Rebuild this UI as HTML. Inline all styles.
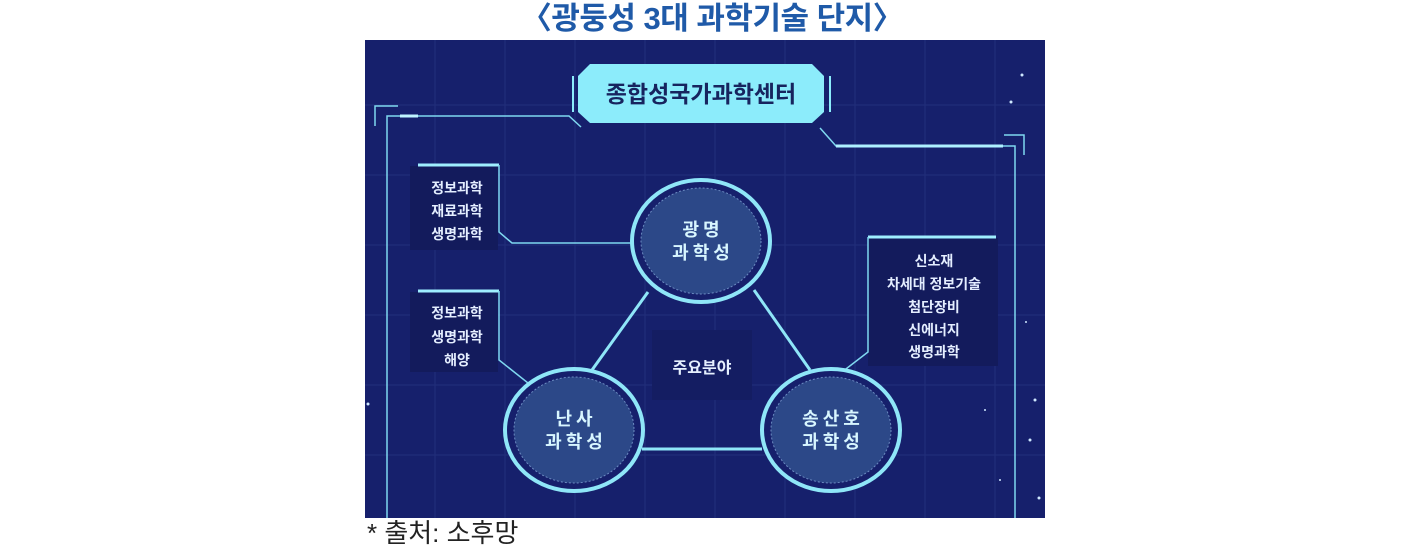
<!DOCTYPE html>
<html><head><meta charset="utf-8"><style>
html,body{margin:0;padding:0;background:#fff;width:1424px;height:551px;overflow:hidden}
body{position:relative;font-family:"Liberation Sans","Noto Sans CJK KR",sans-serif}
.title{position:absolute;left:0;width:1424px;top:0px;text-align:center;font-size:31px;font-weight:bold;color:#1f5aa8;line-height:38px;letter-spacing:-0.5px}
.foot{position:absolute;left:367px;top:516px;font-size:26px;color:#222;line-height:34px}
svg{position:absolute;left:0;top:0}
</style></head><body>
<div class="title">〈광둥성 3대 과학기술 단지〉</div>
<svg width="1424" height="551" viewBox="0 0 1424 551" font-family="Liberation Sans, Noto Sans CJK KR, sans-serif">
<defs><clipPath id="c"><rect x="365" y="40" width="680" height="478"/></clipPath></defs>
<g clip-path="url(#c)">
<rect x="365" y="40" width="680" height="478" fill="#16206c"/>
<g stroke="#2a3a86" stroke-width="1" opacity="0.6">
<line x1="435" y1="40" x2="435" y2="518"/><line x1="505" y1="40" x2="505" y2="518"/><line x1="575" y1="40" x2="575" y2="518"/><line x1="645" y1="40" x2="645" y2="518"/><line x1="715" y1="40" x2="715" y2="518"/><line x1="785" y1="40" x2="785" y2="518"/><line x1="855" y1="40" x2="855" y2="518"/><line x1="925" y1="40" x2="925" y2="518"/><line x1="995" y1="40" x2="995" y2="518"/>
<line x1="365" y1="105" x2="1045" y2="105"/><line x1="365" y1="175" x2="1045" y2="175"/><line x1="365" y1="245" x2="1045" y2="245"/><line x1="365" y1="315" x2="1045" y2="315"/><line x1="365" y1="385" x2="1045" y2="385"/><line x1="365" y1="455" x2="1045" y2="455"/>
</g>
<g stroke="#7fd8f0" stroke-width="1.5" fill="none">
<polyline points="387,518 387,116 569,116 581,127"/>
<polyline points="375,126 375,106 398,106"/>
<polyline points="820,128 836,146 1015,146 1015,518"/>
<polyline points="1004,135 1024,135 1024,155"/>
</g>
<line x1="400" y1="116" x2="418" y2="116" stroke="#bff4ff" stroke-width="3"/>
<line x1="836" y1="146" x2="1003" y2="146" stroke="#aef0ff" stroke-width="3"/>
<polygon points="590,64 812,64 824,76 824,112 812,123 590,123 578,112 578,76" fill="#8cecfb"/>
<line x1="573" y1="76" x2="573" y2="112" stroke="#8cecfb" stroke-width="2"/>
<line x1="830" y1="76" x2="830" y2="112" stroke="#8cecfb" stroke-width="2"/>
<text x="701" y="102" text-anchor="middle" font-size="23" font-weight="bold" fill="#17245e">종합성국가과학센터</text>
<rect x="410" y="166" width="88" height="84" fill="#131b5c"/>
<line x1="418" y1="165" x2="499" y2="165" stroke="#9feeff" stroke-width="3"/>
<polyline points="499,165 499,232 512,243 632,243" stroke="#7fd8f0" stroke-width="1.5" fill="none"/>
<g font-size="14" font-weight="bold" fill="#e4eeff" text-anchor="middle">
<text x="457" y="193">정보과학</text><text x="457" y="216">재료과학</text><text x="457" y="239">생명과학</text></g>
<rect x="410" y="292" width="88" height="80" fill="#131b5c"/>
<line x1="418" y1="291" x2="499" y2="291" stroke="#9feeff" stroke-width="3"/>
<polyline points="499,291 499,360 528,383" stroke="#7fd8f0" stroke-width="1.5" fill="none"/>
<g font-size="14" font-weight="bold" fill="#e4eeff" text-anchor="middle">
<text x="457" y="318">정보과학</text><text x="457" y="342">생명과학</text><text x="457" y="365">해양</text></g>
<rect x="868" y="238" width="130" height="128" fill="#131b5c"/>
<line x1="868" y1="237" x2="996" y2="237" stroke="#9feeff" stroke-width="3"/>
<polyline points="868,237 868,352 842,372" stroke="#7fd8f0" stroke-width="1.5" fill="none"/>
<g font-size="14" font-weight="bold" fill="#e4eeff" text-anchor="middle">
<text x="934" y="266">신소재</text><text x="934" y="289">차세대 정보기술</text><text x="934" y="312">첨단장비</text><text x="934" y="335">신에너지</text><text x="934" y="357">생명과학</text></g>
<g stroke="#8fe6f8" stroke-width="3">
<line x1="648" y1="292" x2="592" y2="370"/>
<line x1="754" y1="290" x2="810" y2="370"/>
<line x1="642" y1="449" x2="762" y2="449"/>
</g>
<rect x="652" y="330" width="100" height="70" fill="#141d62"/>
<text x="702" y="373" text-anchor="middle" font-size="16" font-weight="bold" fill="#e6f0ff">주요분야</text>
<g>
<ellipse cx="701" cy="241" rx="69" ry="61" fill="#16206c" stroke="#8fe6f8" stroke-width="4"/>
<ellipse cx="701" cy="241" rx="60" ry="53" fill="#2c4888" stroke="#6b8ac0" stroke-width="1" stroke-dasharray="2 2"/>
<text x="703" y="236" text-anchor="middle" font-size="18" font-weight="bold" fill="#d8f6ff" letter-spacing="4">광명</text>
<text x="703" y="259" text-anchor="middle" font-size="18" font-weight="bold" fill="#d8f6ff" letter-spacing="4">과학성</text>
<ellipse cx="574" cy="430" rx="69" ry="61" fill="#16206c" stroke="#8fe6f8" stroke-width="4"/>
<ellipse cx="574" cy="430" rx="60" ry="53" fill="#2c4888" stroke="#6b8ac0" stroke-width="1" stroke-dasharray="2 2"/>
<text x="576" y="425" text-anchor="middle" font-size="18" font-weight="bold" fill="#d8f6ff" letter-spacing="4">난사</text>
<text x="576" y="448" text-anchor="middle" font-size="18" font-weight="bold" fill="#d8f6ff" letter-spacing="4">과학성</text>
<ellipse cx="831" cy="430" rx="69" ry="61" fill="#16206c" stroke="#8fe6f8" stroke-width="4"/>
<ellipse cx="831" cy="430" rx="60" ry="53" fill="#2c4888" stroke="#6b8ac0" stroke-width="1" stroke-dasharray="2 2"/>
<text x="833" y="425" text-anchor="middle" font-size="18" font-weight="bold" fill="#d8f6ff" letter-spacing="4">송산호</text>
<text x="833" y="448" text-anchor="middle" font-size="18" font-weight="bold" fill="#d8f6ff" letter-spacing="4">과학성</text>
</g>
<g fill="#cfe8ff">
<circle cx="1022" cy="75" r="1.5"/><circle cx="1011" cy="102" r="1.5"/><circle cx="1035" cy="400" r="1.5"/><circle cx="1030" cy="440" r="1.5"/><circle cx="1039" cy="498" r="1.5"/><circle cx="1000" cy="480" r="1"/><circle cx="985" cy="410" r="1"/><circle cx="368" cy="404" r="1.5"/><circle cx="1026" cy="322" r="1"/>
</g>
</g>
</svg>
<div class="foot">* 출처: 소후망</div>
</body></html>
